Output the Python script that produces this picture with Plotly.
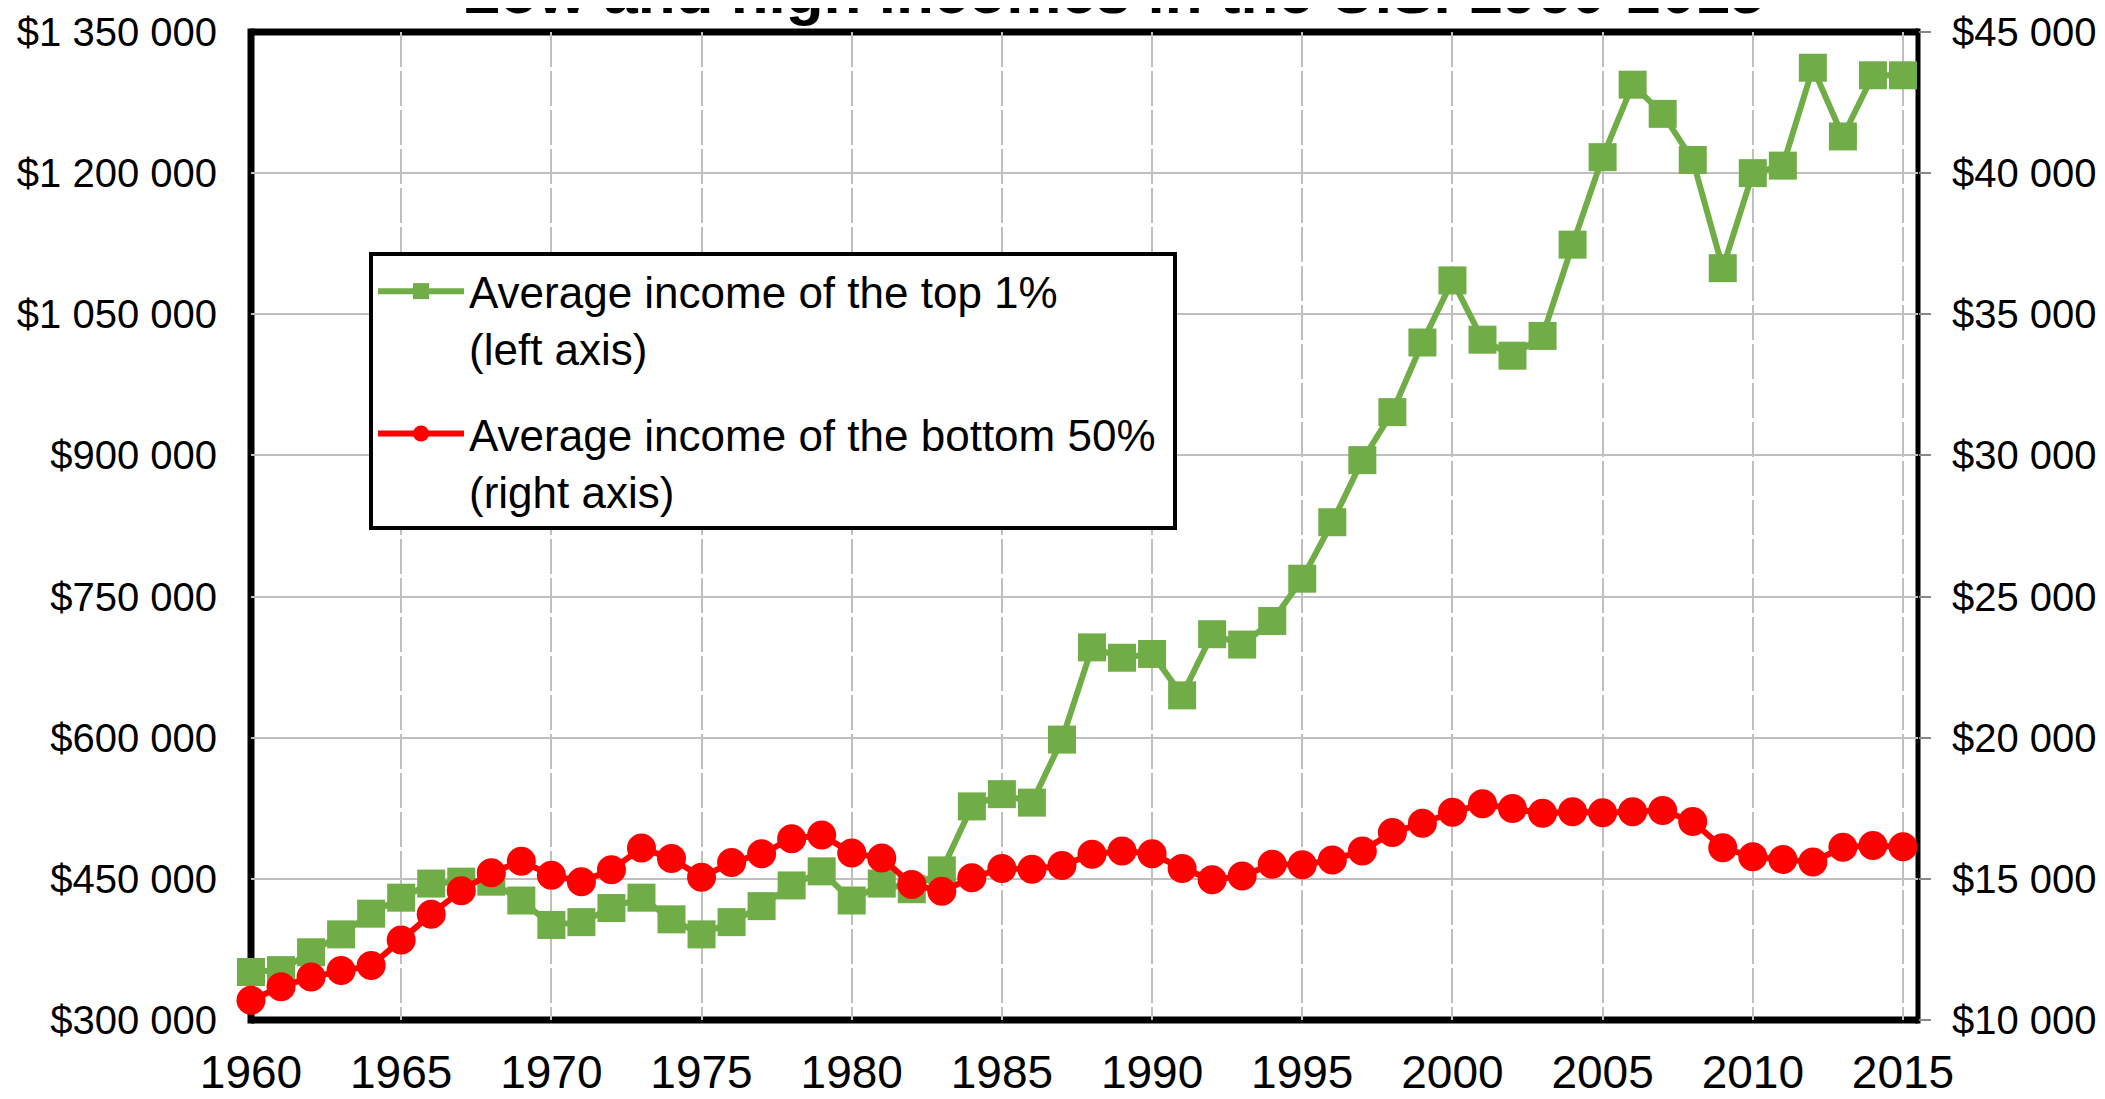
import plotly.graph_objects as go

years = list(range(1960, 2016))

top1_income = [
    351000, 353000, 372000, 391000, 413000, 430000, 445000, 447000, 447000, 427000,
    401000, 404000, 419000, 430000, 407000, 391000, 404000, 421000, 443000, 458000,
    427000, 445000, 439000, 459000, 527000, 540000, 531000, 598000, 696000, 685000,
    689000, 645000, 710000, 699000, 724000, 769000, 829000, 895000, 946000, 1020000,
    1086000, 1023000, 1006000, 1027000, 1124000, 1217000, 1294000, 1263000, 1214000, 1099000,
    1200000, 1208000, 1312000, 1239000, 1304000, 1304000,
]

bottom50_income = [
    10700, 11180, 11520, 11750, 11930, 12830, 13750, 14580, 15220, 15620,
    15130, 14900, 15320, 16090, 15720, 15060, 15580, 15890, 16420, 16550,
    15920, 15740, 14800, 14560, 15040, 15370, 15340, 15470, 15870, 15990,
    15890, 15370, 14970, 15100, 15520, 15500, 15670, 15990, 16640, 16970,
    17360, 17660, 17490, 17320, 17380, 17340, 17380, 17420, 17030, 16100,
    15780, 15690, 15600, 16120, 16180, 16140,
]

series_names = [
    "Average income of the top 1%<br>(left axis)",
    "Average income of the bottom 50%&nbsp;<br>(right axis)",
]
title_text = "Low and high incomes in the U.S. 1960-2015"

GREEN = "#70AD47"
RED = "#FF0000"
GRID = "#BFBFBF"
FONT = "Liberation Sans, Arial, sans-serif"

fig = go.Figure()
fig.add_trace(go.Scatter(
    x=years, y=top1_income, name=series_names[0], mode="lines+markers",
    line=dict(color=GREEN, width=6),
    marker=dict(symbol="square", size=28, color=GREEN),
    cliponaxis=False, legendgroup="a",
))
fig.add_trace(go.Scatter(
    x=years, y=bottom50_income, name=series_names[1], mode="lines+markers",
    yaxis="y2",
    line=dict(color=RED, width=6),
    marker=dict(symbol="circle", size=29, color=RED),
    cliponaxis=False, legendgroup="b",
))

# plot frame (thick left/top/bottom, thinner right), centred on the plot edges
frame = [
    dict(x0=0, x1=0, y0=-0.0035, y1=1.0035, w=7),
    dict(x0=0, x1=1, y0=1, y1=1, w=7),
    dict(x0=0, x1=1, y0=0, y1=0, w=7),
    dict(x0=1, x1=1, y0=-0.0035, y1=1.0035, w=5),
]
shapes = [
    dict(type="line", xref="paper", yref="paper", x0=f["x0"], x1=f["x1"],
         y0=f["y0"], y1=f["y1"], line=dict(color="black", width=f["w"]),
         layer="between")
    for f in frame
]

# the page body adds an 8px margin, so the figure is 8px smaller and shifted
fig.update_layout(
    width=2097, height=1091,
    margin=dict(l=243, r=187, t=24, b=79, pad=0, autoexpand=False),
    paper_bgcolor="white", plot_bgcolor="white",
    separators=". ",
    font=dict(family=FONT, color="black"),
    showlegend=True,
    legend=dict(
        x=0.0708, y=0.7773, xanchor="left", yanchor="top",
        bgcolor="white", bordercolor="black", borderwidth=4,
        font=dict(size=44, family=FONT, color="black"),
        valign="top", tracegroupgap=25, itemwidth=86,
    ),
    xaxis=dict(
        range=[1960, 2015.5], tick0=1960, dtick=5, automargin=False,
        showgrid=True, gridcolor=GRID, gridwidth=1.5, griddash="35px,4px",
        showline=False, zeroline=False, ticks="", ticklabelstandoff=21,
        tickfont=dict(size=46, family=FONT, color="black"),
    ),
    yaxis=dict(
        range=[300000, 1350000], tick0=300000, dtick=150000,
        tickprefix="$", tickformat=",d", automargin=False,
        showgrid=True, gridcolor=GRID, gridwidth=2,
        showline=False, zeroline=False, ticks="", ticklabelstandoff=33,
        tickfont=dict(size=40, family=FONT, color="black"),
    ),
    yaxis2=dict(
        overlaying="y", side="right", automargin=False,
        range=[10000, 45000], tick0=10000, dtick=5000,
        tickprefix="$", tickformat=",d",
        showgrid=False, showline=False, zeroline=False,
        ticks="outside", ticklen=12, tickcolor="#888888", tickwidth=1.5,
        ticklabelstandoff=13,
        tickfont=dict(size=40, family=FONT, color="black"),
    ),
    shapes=shapes,
    annotations=[dict(
        text="<b>" + title_text + "</b>", x=0.5168, y=1.041,
        xref="paper", yref="paper", xanchor="center", yanchor="middle",
        showarrow=False, font=dict(size=62, family=FONT, color="black"),
    )],
)

fig.write_html("out.html")
